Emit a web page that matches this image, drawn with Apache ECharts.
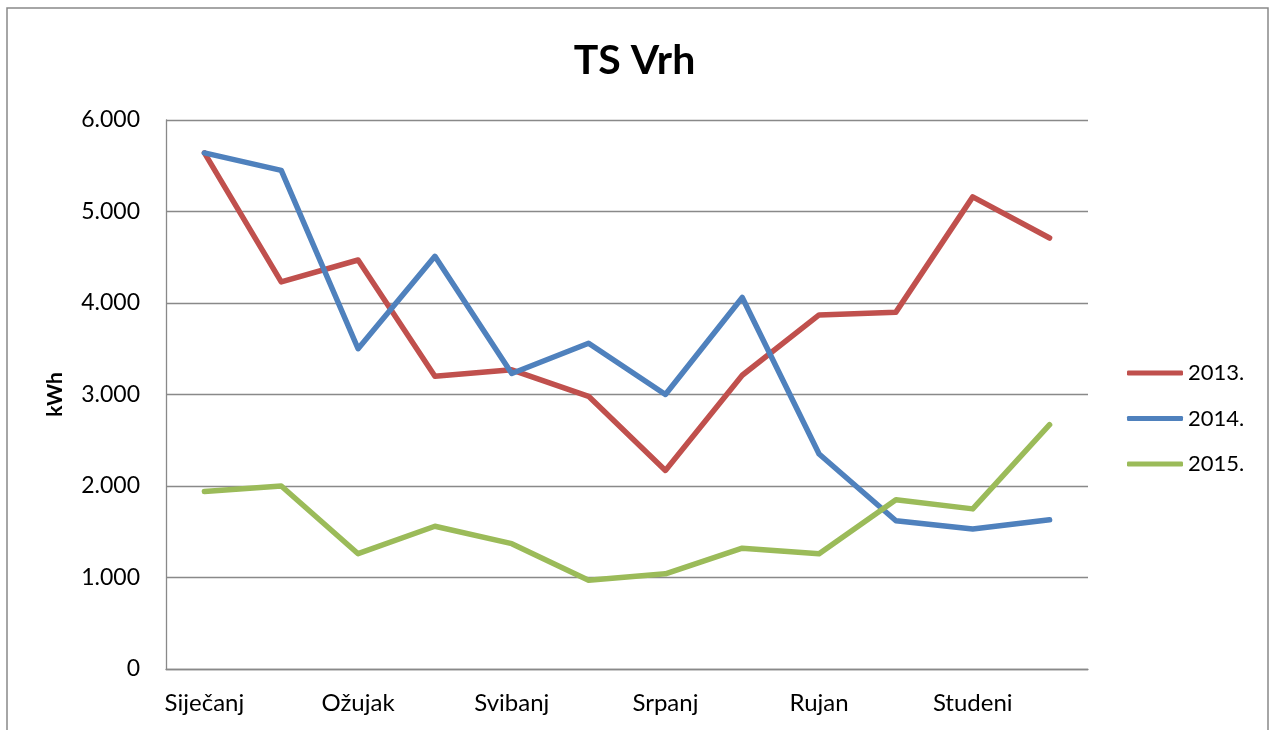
<!DOCTYPE html>
<html>
<head>
<meta charset="utf-8">
<title>TS Vrh</title>
<script src="https://cdn.jsdelivr.net/npm/echarts@6/dist/echarts.min.js"></script>
<style>
  html, body { margin: 0; padding: 0; background: #fff; overflow: hidden; }
  #main { width: 1269px; height: 730px; }
</style>
</head>
<body>
<div id="main"></div>
<script>
// months (only every other label is shown on the axis)
var months = ['Siječanj', 'Veljača', 'Ožujak', 'Travanj', 'Svibanj', 'Lipanj',
  'Srpanj', 'Kolovoz', 'Rujan', 'Listopad', 'Studeni', 'Prosinac'];

// kWh per month
var y2013 = [5640, 4230, 4470, 3200, 3270, 2980, 2170, 3210, 3870, 3900, 5160, 4710];
var y2014 = [5640, 5450, 3500, 4510, 3230, 3560, 3000, 4060, 2350, 1620, 1530, 1630];
var y2015 = [1940, 2000, 1260, 1560, 1370, 970, 1040, 1320, 1260, 1850, 1750, 2670];

var seriesNames = ['2013.', '2014.', '2015.'];
var colors = ['#C0504D', '#4F81BD', '#9BBB59'];

var font = 'Lato';
var gray = '#898989';

function fmt(v) {
  return String(v).replace(/\B(?=(\d{3})+(?!\d))/g, '.');
}

function lineSeries(name, data, color) {
  return {
    name: name,
    type: 'line',
    data: data,
    symbol: 'none',
    smooth: false,
    color: color,
    lineStyle: { width: 5.5, color: color, cap: 'round', join: 'round' }
  };
}

var myChart = echarts.init(document.getElementById('main'), null, { renderer: 'canvas' });
myChart.setOption({
  animation: false,
  backgroundColor: '#fff',
  textStyle: { fontFamily: font },
  graphic: [{
    type: 'rect',
    shape: { x: 7, y: 8, width: 1261, height: 760 },
    style: { fill: 'none', stroke: gray, lineWidth: 1.5 },
    silent: true
  }],
  title: {
    text: 'TS Vrh',
    left: 'center',
    top: 35,
    textStyle: { fontFamily: font, fontSize: 41, fontWeight: 'bold', color: '#000' }
  },
  legend: {
    orient: 'vertical',
    left: 1122,
    top: 357,
    itemWidth: 56,
    itemHeight: 5,
    itemGap: 23.5,
    icon: 'roundRect',
    data: seriesNames,
    textStyle: { fontFamily: font, fontSize: 22, color: '#000', lineHeight: 22 }
  },
  grid: { left: 166, top: 120, right: 181, bottom: 61, containLabel: false },
  xAxis: {
    type: 'category',
    data: months,
    boundaryGap: true,
    axisLine: { lineStyle: { color: gray, width: 1.3 } },
    axisTick: { show: false },
    axisLabel: { interval: 1, margin: 22, fontFamily: font, fontSize: 24, color: '#000' }
  },
  yAxis: {
    type: 'value',
    min: 0,
    max: 6000,
    interval: 1000,
    name: 'kWh',
    nameLocation: 'middle',
    nameRotate: 90,
    nameGap: 100,
    nameTextStyle: { fontFamily: font, fontSize: 21, fontWeight: 'bold', color: '#000' },
    axisLine: { show: true, lineStyle: { color: gray, width: 1.3 } },
    axisTick: { show: false },
    axisLabel: { margin: 26, fontFamily: font, fontSize: 23, color: '#000', formatter: fmt },
    splitLine: { lineStyle: { color: gray, width: 1.3 } }
  },
  series: [
    lineSeries(seriesNames[0], y2013, colors[0]),
    lineSeries(seriesNames[1], y2014, colors[1]),
    lineSeries(seriesNames[2], y2015, colors[2])
  ]
});

window.addEventListener('resize', function () { myChart.resize(); });
</script>
</body>
</html>
